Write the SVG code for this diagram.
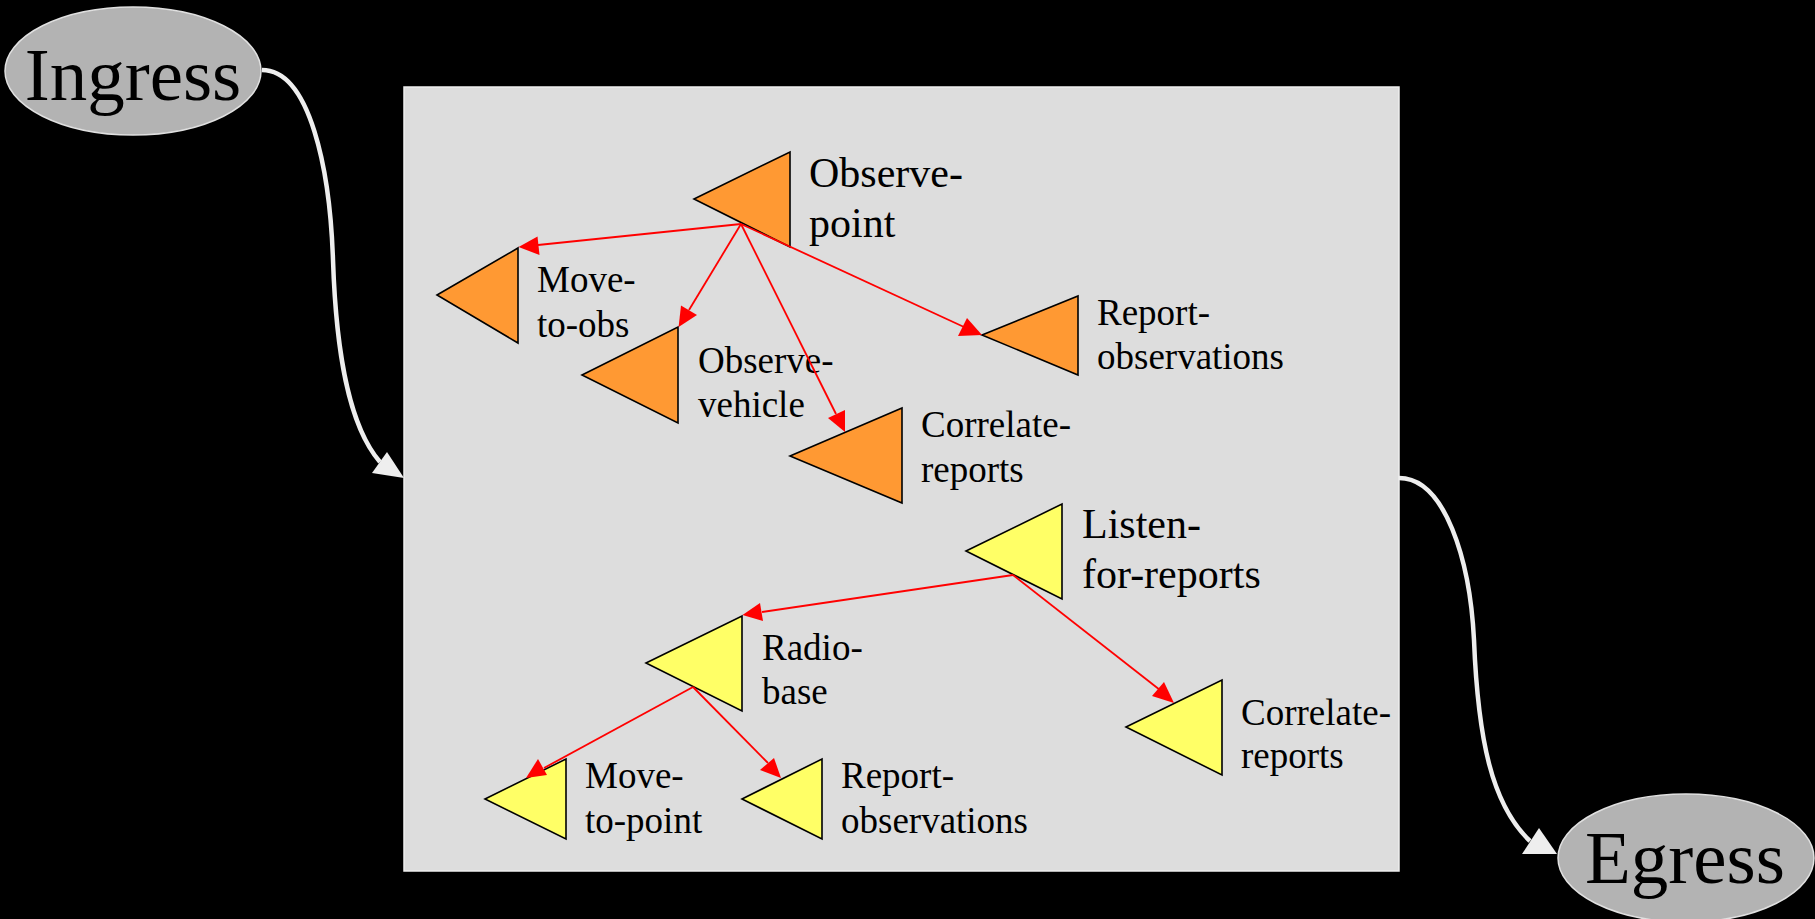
<svg xmlns="http://www.w3.org/2000/svg" width="1815" height="919" viewBox="0 0 1815 919">
<style>
.t{font-family:"Liberation Serif","Times New Roman",serif;fill:#000}
.s{font-size:37px}
.m{font-size:42px}
.b{font-size:75px}
.or{fill:#ff9933;stroke:#000;stroke-width:1.6}
.ye{fill:#ffff66;stroke:#000;stroke-width:1.6}
.el{fill:#b3b3b3;stroke:#e0e0e0;stroke-width:1.5}
.re{stroke:#ff0000;stroke-width:1.8;fill:none}
.rh{fill:#ff0000}
.we{stroke:#eeeeee;stroke-width:4.5;fill:none}
.wh{fill:#eeeeee}
</style>
<rect x="0" y="0" width="1815" height="919" fill="#000"/>
<g id="cluster">
<rect x="404" y="87" width="995" height="784" fill="#dddddd" stroke="#eeeeee" stroke-width="1.5"/>
</g>
<g id="ingress">
<ellipse cx="133" cy="71" rx="128" ry="64" class="el"/>
<text x="133" y="100" text-anchor="middle" class="t b">Ingress</text>
</g>
<g id="egress">
<ellipse cx="1686" cy="858" rx="128" ry="64" class="el"/>
<text x="1685" y="883" text-anchor="middle" class="t b">Egress</text>
</g>
<g id="observe-point">
<polygon points="694,199 790,152 790,247" class="or"/>
<text class="t m"><tspan x="809" y="187">Observe-</tspan><tspan x="809" y="237">point</tspan></text>
</g>
<g id="move-to-obs">
<polygon points="437,295 518,248 518,343" class="or"/>
<text class="t s"><tspan x="537" y="292">Move-</tspan><tspan x="537" y="337">to-obs</tspan></text>
</g>
<g id="observe-vehicle">
<polygon points="582,375 678,327 678,423" class="or"/>
<text class="t s"><tspan x="698" y="373">Observe-</tspan><tspan x="698" y="417">vehicle</tspan></text>
</g>
<g id="correlate-reports-1">
<polygon points="790,456 902,408 902,503" class="or"/>
<text class="t s"><tspan x="921" y="437">Correlate-</tspan><tspan x="921" y="482">reports</tspan></text>
</g>
<g id="report-observations-1">
<polygon points="982,335 1078,296 1078,375" class="or"/>
<text class="t s"><tspan x="1097" y="325">Report-</tspan><tspan x="1097" y="369">observations</tspan></text>
</g>
<g id="listen-for-reports">
<polygon points="966,551 1062,504 1062,599" class="ye"/>
<text class="t m"><tspan x="1082" y="538">Listen-</tspan><tspan x="1082" y="588">for-reports</tspan></text>
</g>
<g id="radio-base">
<polygon points="646,663 742,616 742,711" class="ye"/>
<text class="t s"><tspan x="762" y="660">Radio-</tspan><tspan x="762" y="704">base</tspan></text>
</g>
<g id="correlate-reports-2">
<polygon points="1126,727 1222,680 1222,775" class="ye"/>
<text class="t s"><tspan x="1241" y="725">Correlate-</tspan><tspan x="1241" y="768">reports</tspan></text>
</g>
<g id="move-to-point">
<polygon points="485,799 566,759 566,839" class="ye"/>
<text class="t s"><tspan x="585" y="788">Move-</tspan><tspan x="585" y="833">to-point</tspan></text>
</g>
<g id="report-observations-2">
<polygon points="742,799 822,759 822,839" class="ye"/>
<text class="t s"><tspan x="841" y="788">Report-</tspan><tspan x="841" y="833">observations</tspan></text>
</g>
<g id="connectors">
<path class="we" d="M262,70 C310,70 330,170 333,260 C336,350 348,425 380,462"/>
<polygon class="wh" points="404,478 372,473 387,452"/>
<path class="we" d="M1399,478 C1445,478 1470,560 1474,640 C1478,740 1492,805 1530,841"/>
<polygon class="wh" points="1557,854 1522,854 1539,828"/>
<line class="re" x1="741" y1="224" x2="538" y2="245"/>
<polygon class="rh" points="518.6,247 537.5,236.5 539.5,255"/>
<line class="re" x1="741" y1="224" x2="689" y2="310"/>
<polygon class="rh" points="678.6,327 681,305.5 697,315"/>
<line class="re" x1="741" y1="224" x2="836" y2="414"/>
<polygon class="rh" points="845,432 828,418 845,410"/>
<line class="re" x1="741" y1="224" x2="964" y2="327"/>
<polygon class="rh" points="982,335 958,336 967,318"/>
<line class="re" x1="1013" y1="575" x2="762" y2="612"/>
<polygon class="rh" points="742.5,615 760,603 763,621"/>
<line class="re" x1="1013" y1="575" x2="1160" y2="690"/>
<polygon class="rh" points="1174,703 1152,696 1164,682"/>
<line class="re" x1="693" y1="687" x2="544" y2="768"/>
<polygon class="rh" points="526,778 538,759 547,775"/>
<line class="re" x1="693" y1="687" x2="768" y2="763"/>
<polygon class="rh" points="781,778 760,770 774,758"/>
</g>
</svg>
